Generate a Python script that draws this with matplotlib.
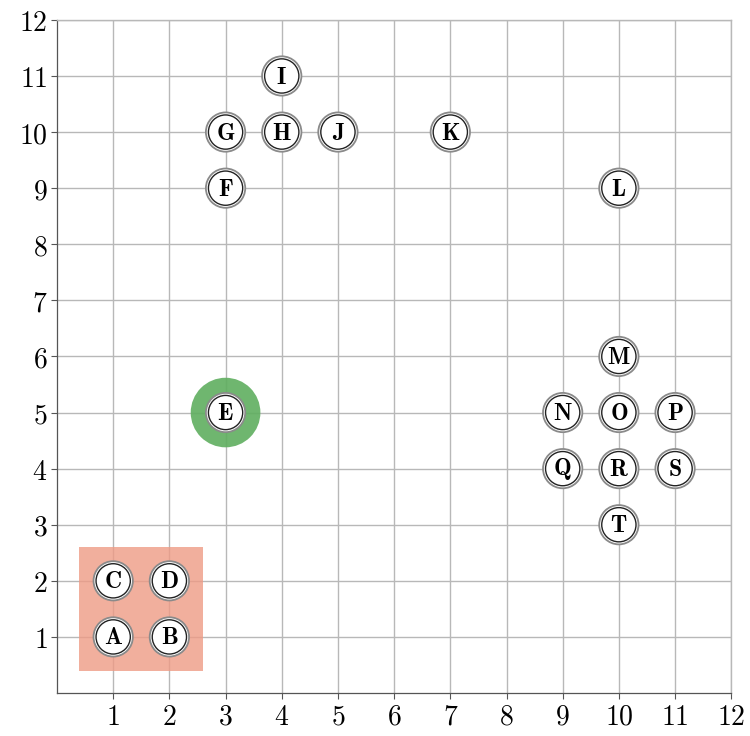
import matplotlib
matplotlib.use("Agg")
import matplotlib.pyplot as plt
from matplotlib.patches import Circle, Rectangle
from matplotlib.ticker import FuncFormatter

plt.rcParams['mathtext.fontset'] = 'cm'

labels = ['A', 'B', 'C', 'D', 'E', 'F', 'G', 'H', 'I', 'J', 'K', 'L', 'M', 'N', 'O', 'P', 'Q', 'R', 'S', 'T']
xs = [1, 2, 1, 2, 3, 3, 3, 4, 4, 5, 7, 10, 10, 9, 10, 11, 9, 10, 11, 10]
ys = [1, 1, 2, 2, 5, 9, 10, 10, 11, 10, 10, 9, 6, 5, 5, 5, 4, 4, 4, 3]
ticks = list(range(1, 13))
highlight_box = (0.4, 0.4, 2.6, 2.6)  # x0, y0, x1, y1
highlight_node = 'E'

fig = plt.figure(figsize=(7.5, 7.36), dpi=100)
ax = fig.add_axes([0.076, 0.0584, 0.899, 0.9146])
ax.set_xlim(0, 12)
ax.set_ylim(0, 12)
ax.set_xticks(ticks)
ax.set_yticks(ticks)
fmt = FuncFormatter(lambda v, p: r'$%d$' % v)
ax.xaxis.set_major_formatter(fmt)
ax.yaxis.set_major_formatter(fmt)
ax.tick_params(labelsize=20, length=4, width=0.8, color='#555555', direction='out', pad=3)
ax.grid(True, color='#b8b8b8', linewidth=1.0, zorder=0)
ax.set_axisbelow(True)
for s in ['left', 'bottom']:
    ax.spines[s].set_color('#555555')
    ax.spines[s].set_linewidth(0.9)
for s in ['top', 'right']:
    ax.spines[s].set_color('#b8b8b8')
    ax.spines[s].set_linewidth(1.0)

x0, y0, x1, y1 = highlight_box
ax.add_patch(Rectangle((x0, y0), x1 - x0, y1 - y0, facecolor='#ee9b85', alpha=0.8,
                       edgecolor='none', zorder=1))

r = 0.33
for lab, x, y in zip(labels, xs, ys):
    if lab == highlight_node:
        ax.add_patch(Circle((x, y), 0.62, facecolor='#5fae5f', alpha=0.9, edgecolor='none', zorder=2))
    ax.add_patch(Circle((x, y), r + 0.02, facecolor='white', edgecolor='#8a8a8a', linewidth=1.3, zorder=3))
    ax.add_patch(Circle((x, y), r - 0.025, facecolor='white', edgecolor='#222222', linewidth=1.0, zorder=4))
    ax.text(x, y - 0.01, r'$\mathbf{%s}$' % lab, ha='center', va='center', fontsize=17, zorder=5)

fig.savefig('out.png', dpi=100)
